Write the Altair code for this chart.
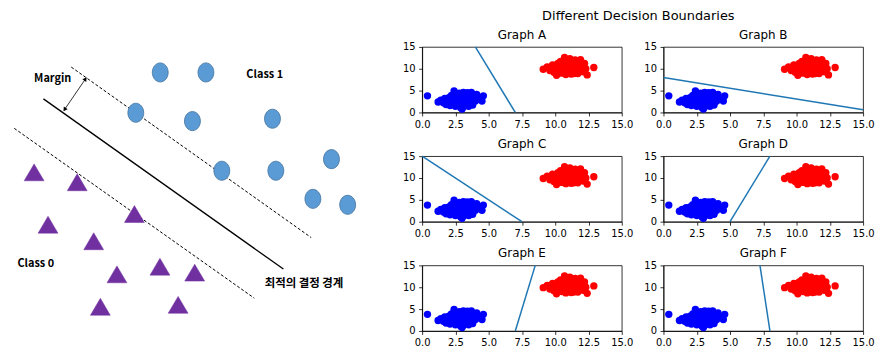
import altair as alt
import pandas as pd

# ---------------- right side: six decision-boundary panels ----------------
blue_x = [0.4, 1.2, 1.4, 1.6, 1.7, 1.8, 1.9, 2.0, 2.1, 2.2, 2.3, 2.4, 2.4, 2.5, 2.6, 2.7,
          2.8, 2.8, 2.9, 3.0, 3.0, 3.1, 3.1, 3.2, 3.3, 3.3, 3.4, 3.5, 3.5, 3.6, 3.7, 3.8,
          3.9, 4.0, 4.1, 4.2, 4.5, 4.6, 2.6, 3.0, 3.4, 2.2, 1.9, 3.8, 2.9, 3.2]
blue_y = [3.8, 2.4, 2.8, 2.2, 3.2, 1.8, 2.6, 3.4, 1.6, 2.9, 2.2, 4.9, 3.6, 1.4, 2.7, 3.1,
          4.4, 1.9, 2.5, 0.8, 3.5, 1.3, 4.6, 2.2, 3.9, 1.7, 4.5, 2.8, 1.4, 3.5, 4.6, 2.1,
          3.2, 2.6, 4.1, 3.0, 2.6, 3.8, 2.0, 2.9, 3.3, 3.9, 2.0, 1.7, 1.1, 4.0]
red_x = [9.1, 9.4, 9.6, 9.8, 9.9, 10.0, 10.1, 10.2, 10.3, 10.4, 10.5, 10.6, 10.7, 10.8,
         10.9, 11.0, 11.1, 11.2, 11.3, 11.4, 11.5, 11.6, 11.7, 11.8, 11.9, 12.0, 12.1,
         12.3, 12.4, 12.9, 10.4, 10.8, 11.0, 11.3, 11.6, 11.9, 10.1, 10.6, 11.2, 11.8,
         12.2, 11.4]
red_y = [9.9, 10.4, 9.6, 10.9, 9.2, 10.2, 8.5, 11.2, 9.8, 10.6, 9.0, 10.0, 12.6, 11.4,
         9.4, 10.7, 12.3, 8.8, 11.0, 9.7, 12.0, 10.3, 8.9, 11.6, 9.9, 10.8, 9.3,
         10.0, 8.6, 10.3, 11.7, 8.7, 11.8, 10.1, 9.1, 12.1, 10.6, 11.5, 9.6, 10.4,
         11.2, 8.9]

panel_names = ["Graph A", "Graph B", "Graph C", "Graph D", "Graph E", "Graph F"]
line_x_start = [4.0, 0.0, 0.0, 5.0, 7.0, 7.25]
line_y_start = [15.0, 8.0, 15.0, 0.0, 0.0, 15.0]
line_x_end = [7.0, 15.0, 7.5, 8.0, 8.5, 8.0]
line_y_end = [0.0, 0.6, 0.0, 15.0, 15.0, 0.0]

x_ticks = [0, 2.5, 5, 7.5, 10, 12.5, 15]
y_ticks = [0, 5, 10, 15]
suptitle = "Different Decision Boundaries"

# ---------------- left side: SVM margin illustration ----------------
circle_x = [160.3, 206.3, 135.7, 192.7, 273.3, 222.3, 276.7, 332.7, 314.0, 349.0]
circle_y = [72.7, 72.7, 113.3, 121.7, 119.3, 171.7, 171.7, 160.0, 200.0, 206.0]
tri_x = [33.3, 76.7, 47.3, 134.3, 93.3, 116.7, 160.0, 195.0, 100.0, 178.3]
tri_y = [173.3, 183.3, 226.0, 215.3, 242.7, 276.0, 268.3, 274.3, 308.7, 306.7]

bound_names = ["boundary", "upper margin", "lower margin"]
bound_dashed = [False, True, True]
bound_x0 = [42.7, 70.7, 13.3]
bound_y0 = [99.3, 67.3, 129.0]
bound_x1 = [284.3, 312.3, 255.0]
bound_y1 = [270.7, 239.0, 300.0]

arrow_x = [64.0, 85.0]
arrow_y = [110.0, 79.3]
arrow_angle = [214.4, 34.4]

label_text = ["Margin", "Class 1", "Class 0", "최적의 결정 경계"]
label_x = [52.0, 265.5, 35.0, 305.0]
label_y = [79.3, 75.0, 266.0, 286.0]
label_size = [11, 11, 11, 11.5]

FONT = "DejaVu Sans"
ILLUS_TOP = 47

pts_df = pd.DataFrame({
    "x": blue_x + red_x,
    "y": blue_y + red_y,
    "c": ["blue"] * len(blue_x) + ["red"] * len(red_x),
})
seg_df = pd.DataFrame({"panel": panel_names, "x": line_x_start, "y": line_y_start,
                       "x2": line_x_end, "y2": line_y_end})


def make_panel(name):
    xs = alt.Scale(domain=[0, 15], nice=False, zero=False)
    ys = alt.Scale(domain=[0, 15], nice=False, zero=False)
    xa = alt.Axis(values=x_ticks, format=".1f", title=None, grid=False,
                  labelFlush=False, labelOverlap=False)
    ya = alt.Axis(values=y_ticks, format="d", title=None, grid=False,
                  labelFlush=False, labelOverlap=False)
    pts = alt.Chart(pts_df).mark_circle(size=55, opacity=1).encode(
        x=alt.X("x:Q", scale=xs, axis=xa),
        y=alt.Y("y:Q", scale=ys, axis=ya),
        color=alt.Color("c:N", scale=None, legend=None),
    )
    seg = alt.Chart(seg_df).transform_filter(alt.datum.panel == name).mark_rule(
        color="#1f77b4", strokeWidth=1.5
    ).encode(x=alt.X("x:Q", scale=xs, axis=xa), y=alt.Y("y:Q", scale=ys, axis=ya),
             x2="x2:Q", y2="y2:Q")
    return alt.layer(pts, seg).properties(
        width=201, height=66,
        title=alt.TitleParams(name, font=FONT, fontSize=12, fontWeight="normal",
                              color="black", offset=0, anchor="middle"),
        view=alt.ViewBackground(stroke="black", strokeWidth=0.8),
    )


panels = [make_panel(n) for n in panel_names]
grid = alt.vconcat(
    alt.hconcat(panels[0], panels[1], spacing=9),
    alt.hconcat(panels[2], panels[3], spacing=9),
    alt.hconcat(panels[4], panels[5], spacing=9),
    spacing=7,
    title=alt.TitleParams(suptitle, font=FONT, fontSize=13, fontWeight="normal",
                          color="black", anchor="middle", offset=6),
)

# illustration
ixs = alt.Scale(domain=[8, 378], nice=False, zero=False)
iys = alt.Scale(domain=[ILLUS_TOP, ILLUS_TOP + 300], nice=False, zero=False, reverse=True)

bound_df = pd.DataFrame({"name": bound_names, "dashed": bound_dashed, "x": bound_x0,
                         "y": bound_y0, "x2": bound_x1, "y2": bound_y1})
circ_df = pd.DataFrame({"x": circle_x, "y": circle_y})
tri_df = pd.DataFrame({"x": tri_x, "y": tri_y})
arrow_df = pd.DataFrame({"x": arrow_x, "y": arrow_y, "a": arrow_angle})
lab_df = pd.DataFrame({"t": label_text, "x": label_x, "y": label_y, "s": label_size})

ix = alt.X("x:Q", scale=ixs, axis=None)
iy = alt.Y("y:Q", scale=iys, axis=None)

solid = alt.Chart(bound_df).transform_filter("!datum.dashed").mark_rule(
    color="black", strokeWidth=1.3).encode(x=ix, y=iy, x2="x2:Q", y2="y2:Q")
dashed = alt.Chart(bound_df).transform_filter("datum.dashed").mark_rule(
    color="black", strokeWidth=1, strokeDash=[3, 2]).encode(x=ix, y=iy, x2="x2:Q", y2="y2:Q")
arrow_line = alt.Chart(arrow_df).mark_line(color="black", strokeWidth=0.8).encode(
    x=ix, y=iy)
arrow_heads = alt.Chart(arrow_df).mark_point(
    shape="triangle-up", filled=True, color="black", size=22, opacity=1
).encode(x=ix, y=iy, angle=alt.Angle("a:Q", scale=None))
circles = alt.Chart(circ_df).mark_point(
    shape="M0,-1.2A1,1.2,0,1,1,0,1.2A1,1.2,0,1,1,0,-1.2Z",
    filled=True, fill="#5B9BD5", stroke="#41719C", strokeWidth=0.8, size=256, opacity=1
).encode(x=ix, y=iy)
triangles = alt.Chart(tri_df).mark_point(
    shape="M0,-0.85L1,0.85L-1,0.85Z", filled=True, fill="#7030A0", stroke="#7030A0",
    strokeWidth=0.5, size=400, opacity=1
).encode(x=ix, y=iy)
labels = alt.Chart(lab_df).mark_text(
    font="Noto Sans CJK KR", fontWeight="bold", color="black", align="center",
    baseline="middle"
).encode(x=ix, y=iy, text="t:N", size=alt.Size("s:Q", scale=None, legend=None))

illus = alt.layer(dashed, solid, arrow_line, arrow_heads, circles, triangles, labels).properties(
    width=370, height=300)

chart = alt.hconcat(illus, grid, spacing=24).resolve_scale(
    x="independent", y="independent", color="independent"
).properties(padding=0).configure_view(stroke="transparent").configure_axis(
    domainColor="black", domainWidth=0.8, tickColor="black", tickWidth=0.8,
    tickSize=3.5, labelColor="black", labelFont=FONT, labelFontSize=10,
    labelPadding=3.5, labelOverlap=False,
)

chart.save("out.html", embed_options={"renderer": "svg", "actions": False})
